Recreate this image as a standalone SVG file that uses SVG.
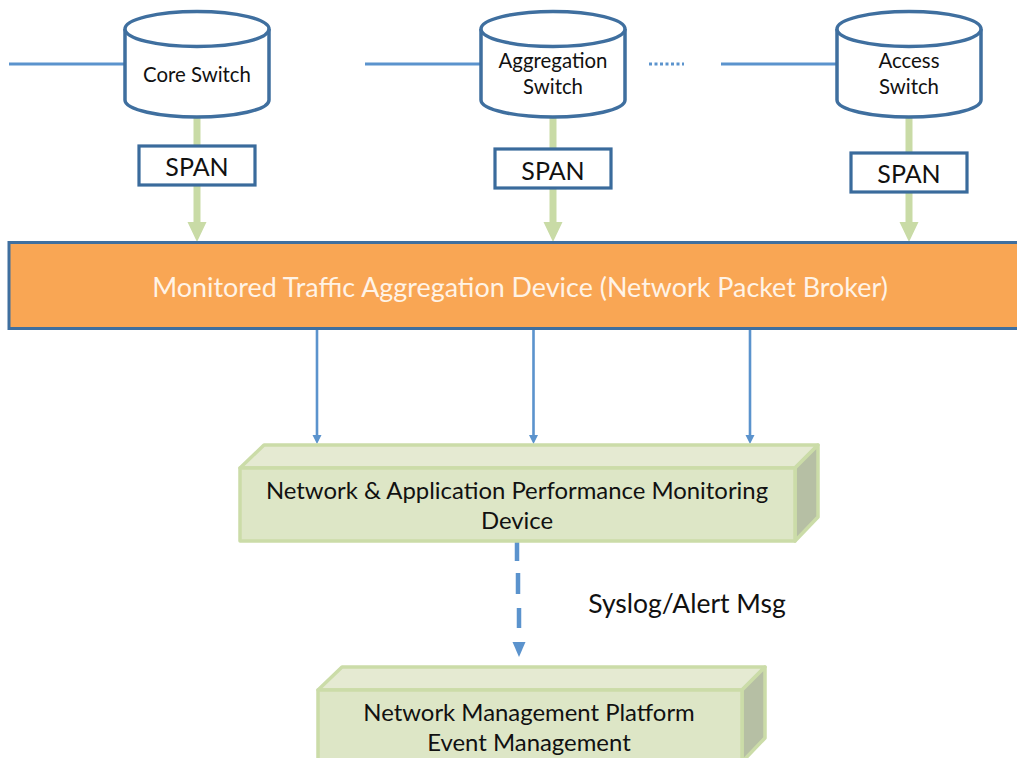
<svg xmlns="http://www.w3.org/2000/svg" width="1017" height="758" viewBox="0 0 1017 758">
<style>
text{font-family:"Lato","Liberation Sans",sans-serif;text-anchor:middle;fill:#111}
.s{font-size:20.400px}.m{font-size:25px}.l{font-size:23.900px}
.cyl{fill:#fff;stroke:#3f6f9f;stroke-width:3.500}
.span{fill:#fff;stroke:#3a6b9c;stroke-width:3.200}
.link{fill:none;stroke:#5b93cd;stroke-width:3}
.g{fill:none;stroke:#c9dba6;stroke-width:7}
.gh{fill:#c9dba6}
.bh{fill:#5b93cd}
.front{fill:#dde6c6;stroke:#cbdca8;stroke-width:3.500;stroke-linejoin:round}
.top{fill:#e5ead2;stroke:#cbdca8;stroke-width:3.500;stroke-linejoin:round}
.side{fill:#b6bfa4;stroke:#cbdca8;stroke-width:3.500;stroke-linejoin:round}
</style>
<g id="connectors">
<path class="link" d="M9 64H125M365 64H481M721 64H837"/>
<path class="link" d="M649 64H684" stroke-dasharray="3 2.500"/>
<path class="g" d="M197 117V145M197 185V222M553 117V149M553 188V222M909 117V152M909 192V222"/>
<path class="gh" d="M187.500 222H206.500L197 242ZM543.500 222H562.500L553 242ZM899.500 222H918.500L909 242Z"/>
<path fill="none" stroke="#5b93cd" stroke-width="2.600" d="M317 328V437M533.500 328V437M750 328V437"/>
<path class="bh" d="M312.500 435H321.500L317 444ZM529 435H538L533.500 444ZM745.500 435H754.500L750 444Z"/>
<path fill="none" stroke="#5b93cd" stroke-width="4.500" d="M517 541V561M518 573V594M519 608V628"/>
<path class="bh" d="M512.500 642H525.500L519 657Z"/>
</g>
<g id="core-switch">
<path class="cyl" d="M125 29V100C125 110 160 117 197 117S269 110 269 100V29"/>
<ellipse class="cyl" cx="197" cy="29" rx="72" ry="17.500"/>
<text class="s" x="197" y="82">Core Switch</text>
</g>
<g id="aggregation-switch">
<path class="cyl" d="M481 29V100C481 110 516 117 553 117S625 110 625 100V29"/>
<ellipse class="cyl" cx="553" cy="29" rx="72" ry="17.500"/>
<text class="s" x="553" y="68">Aggregation</text>
<text class="s" x="553" y="94">Switch</text>
</g>
<g id="access-switch">
<path class="cyl" d="M837 29V100C837 110 872 117 909 117S981 110 981 100V29"/>
<ellipse class="cyl" cx="909" cy="29" rx="72" ry="17.500"/>
<text class="s" x="909" y="68">Access</text>
<text class="s" x="909" y="94">Switch</text>
</g>
<g id="span-core"><rect class="span" x="139" y="146" width="116" height="39"/><text class="m" x="197" y="176">SPAN</text></g>
<g id="span-aggregation"><rect class="span" x="495" y="149" width="116" height="39"/><text class="m" x="553" y="180">SPAN</text></g>
<g id="span-access"><rect class="span" x="851" y="153" width="116" height="39"/><text class="m" x="909" y="183">SPAN</text></g>
<g id="broker">
<rect x="9" y="242.500" width="1020" height="86" fill="#f9a654" stroke="#3f6f9f" stroke-width="3"/>
<text x="520" y="297" font-size="26.900" style="fill:#fff3e6">Monitored Traffic Aggregation Device (Network Packet Broker)</text>
</g>
<g id="monitoring-device">
<path class="top" d="M240 468L264 445H818L795 468Z"/>
<path class="side" d="M795 468L818 445V517L795 541Z"/>
<rect class="front" x="240" y="468" width="555" height="73"/>
<text class="l" x="517" y="499">Network &amp; Application Performance Monitoring</text>
<text class="l" x="517" y="529">Device</text>
</g>
<g id="syslog-label"><text x="687" y="613" font-size="26.500">Syslog/Alert Msg</text></g>
<g id="management-platform">
<path class="top" d="M318 690L342 667H765L742 690Z"/>
<path class="side" d="M742 690L765 667V738L742 762Z"/>
<rect class="front" x="318" y="690" width="424" height="80"/>
<text class="l" x="529" y="721">Network Management Platform</text>
<text class="l" x="529" y="751">Event Management</text>
</g>
</svg>
